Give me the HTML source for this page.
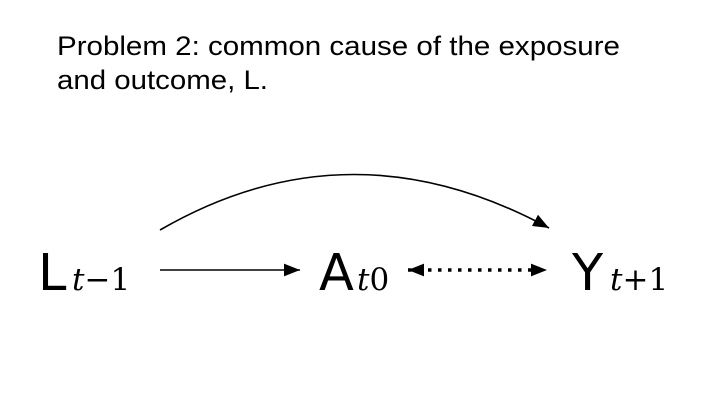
<!DOCTYPE html>
<html><head><meta charset="utf-8"><style>
body{margin:0;width:720px;height:405px;background:#fff;overflow:hidden}
svg{display:block}
.big{font-family:"DejaVu Sans","Liberation Sans",sans-serif;font-size:51px}
.sub{font-family:"DejaVu Serif","Liberation Serif",serif;font-style:italic;font-size:31px}
.sub2{font-family:"DejaVu Serif","Liberation Serif",serif;font-size:31px}
.t{font-family:"Liberation Sans",sans-serif;font-size:27px}
</style></head><body>
<svg width="720" height="405">
<defs>
<marker id="ah2" viewBox="0 0 15 12" refX="15" refY="6" markerWidth="16" markerHeight="13" markerUnits="userSpaceOnUse" orient="auto-start-reverse"><path d="M0,0 L15,6 L0,12 z" fill="#000"/></marker></defs>
<text class="t" x="57" y="55" textLength="563" lengthAdjust="spacingAndGlyphs">Problem 2: common cause of the exposure</text>
<text class="t" x="57" y="89" textLength="211" lengthAdjust="spacingAndGlyphs">and outcome, L.</text>
<g><text class="big" x="38" y="290">L</text><text x="72" y="290"><tspan class="sub">t</tspan><tspan class="sub2">−1</tspan></text></g>
<g><text class="big" x="319" y="290">A</text><text x="357" y="290"><tspan class="sub">t</tspan><tspan class="sub2">0</tspan></text></g>
<g><text class="big" x="572" y="290">Y</text><text x="610" y="290"><tspan class="sub">t</tspan><tspan class="sub2">+1</tspan></text></g>
<line x1="160" y1="270" x2="300" y2="270" stroke="#000" stroke-width="1.6" marker-end="url(#ah2)"/>
<line x1="408" y1="270" x2="547" y2="270" stroke="#000" stroke-width="3.5" stroke-dasharray="3.5,6.5" marker-start="url(#ah2)" marker-end="url(#ah2)"/>
<path d="M160,230 Q350,120 549,228" fill="none" stroke="#000" stroke-width="1.6" marker-end="url(#ah2)"/>
</svg>
</body></html>
